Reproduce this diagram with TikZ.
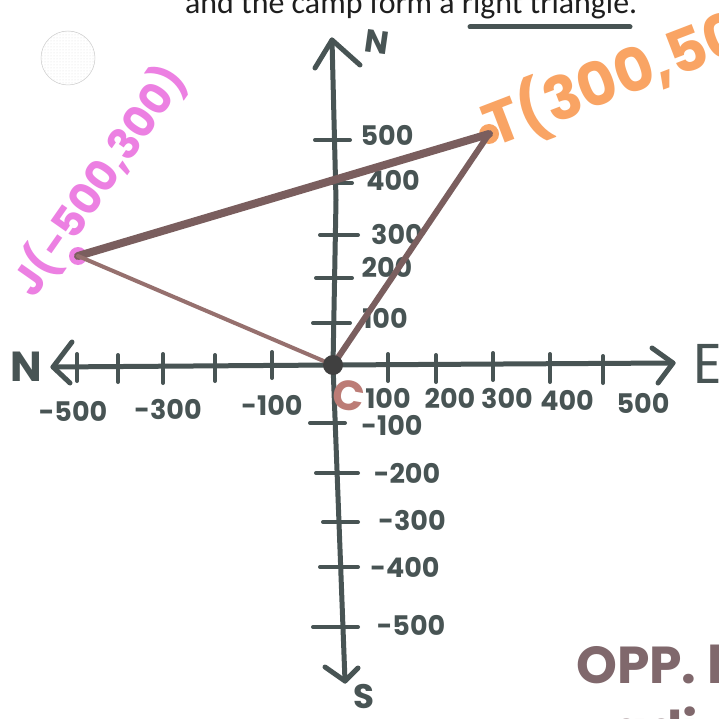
\documentclass[tikz,border=0pt]{standalone}
\usepackage{fontspec}
\setmainfont{Poppins}
\newfontfamily\carl{Carlito}
\usetikzlibrary{patterns}
\definecolor{axiscol}{RGB}{72,84,84}
\definecolor{tri}{RGB}{122,94,94}
\definecolor{trilight}{RGB}{150,112,110}
\definecolor{pinkc}{RGB}{236,128,226}
\definecolor{orangec}{RGB}{249,164,100}
\definecolor{cbrown}{RGB}{188,124,118}
\definecolor{oppc}{RGB}{128,104,108}
\definecolor{inkc}{RGB}{30,30,30}
\newcommand{\fsz}[1]{\fontsize{#1}{#1}\selectfont}
\tikzset{
  axisline/.style={draw=axiscol, line width=5pt, line cap=round, line join=round},
  tickmark/.style={draw=axiscol, line width=4pt, line cap=round},
  lab/.style={text=axiscol, inner sep=0pt, font=\bfseries\fsz{27}},
  dirlab/.style={text=axiscol, inner sep=0pt},
}
\begin{document}
\begin{tikzpicture}[x=1pt,y=-1pt]
\useasboundingbox (0,0) rectangle (718,719);
\clip (0,0) rectangle (718,719);
\fill[white] (0,0) rectangle (718,719);

% title
\node[anchor=base west, inner sep=0pt, text=inkc] (title) at (185,14)
  {\resizebox{452pt}{!}{\carl and the camp form a right triangle.}};
\coordinate (u1) at (470,27);
\coordinate (u2) at (630,27);
\draw[draw=axiscol, line width=5pt, line cap=round] (u1) -- (u2);

% stamp circle
\node[circle, minimum size=54pt, draw=gray!40, line width=0.5pt,
      pattern=dots, pattern color=gray!25] (stamp) at (68,58) {};

% axes
\coordinate (ntip) at (332,40);
\coordinate (O) at (333,365);
\coordinate (stip) at (345,681);
\coordinate (wtip) at (53,367);
\coordinate (etip) at (673,363);
\draw[axisline] (ntip) -- (336,200) -- (O) -- (stip);
\draw[axisline] (wtip) -- (O) -- (etip);
\coordinate (nb1) at (315,68);
\coordinate (nb2) at (360,65);
\draw[axisline] (nb1) -- (ntip) -- (nb2);
\coordinate (sb1) at (325,667);
\coordinate (sb2) at (358,668);
\draw[axisline] (sb1) -- (stip) -- (sb2);
\coordinate (wb1) at (72,342);
\coordinate (wb2) at (70,383);
\draw[axisline] (wb1) -- (wtip) -- (wb2);
\coordinate (eb1) at (652,348);
\coordinate (eb2) at (658,383);
\draw[axisline] (eb1) -- (etip) -- (eb2);

% direction letters
\node[dirlab, font=\bfseries\fsz{32}, rotate=-8] (nN) at (377,42) {N};
\node[dirlab, font=\bfseries\fsz{42}] (nW) at (26,367) {N};
\node[dirlab, font=\fsz{56}] (nE) at (708,364) {E};
\node[dirlab, font=\bfseries\fsz{34}] (nS) at (364,697) {S};

% x ticks
\foreach \x/\a/\b in {77/354/381,118/355/382,163/354/383,215/355/381,272/352/378,
                      388/354/381,436/355/382,493/353/380,550/354/382,603/356/383}
  \draw[tickmark] (\x,\a) -- (\x,\b);
% y ticks
\foreach \y/\a/\b in {140/315/350,183/318/352,235/320/358,278/316/352,323/313/350,
                      423/310/345,473/316/358,522/323/358,567/320/358,627/313/358}
  \draw[tickmark] (\a,\y) -- (\b,\y);

% x labels
\node[lab] (xm500) at (73,411) {-500};
\node[lab] (xm300) at (168,409) {-300};
\node[lab] (xm100) at (272,405) {-100};
\node[lab] (x100) at (388,398) {100};
\node[lab] (x200) at (450,398) {200};
\node[lab] (x300) at (507,398) {300};
\node[lab] (x400) at (567,400) {400};
\node[lab] (x500) at (643,403) {500};
% y labels
\node[lab] (y500) at (387,135) {500};
\node[lab] (y400) at (393,180) {400};
\node[lab] (y300) at (397,234) {300};
\node[lab] (y200) at (387,267) {200};
\node[lab] (y100) at (385,318) {100};
\node[lab] (ym100) at (392,425) {-100};
\node[lab] (ym200) at (407,473) {-200};
\node[lab] (ym300) at (412,520) {-300};
\node[lab] (ym400) at (405,567) {-400};
\node[lab] (ym500) at (411,625) {-500};

% triangle
\coordinate (J) at (78,256);
\coordinate (T) at (489,134);
\fill[pinkc] (J) circle (9pt);
\fill[orangec] (T) circle (10pt);
\draw[draw=tri, line width=8pt, line cap=round] (J) -- (T);
\draw[draw=tri, line width=6pt, line cap=round] (T) -- (O);
\draw[draw=trilight, line width=4pt, line cap=round] (J) -- (O);
\fill[black!75] (O) circle (10pt);

% point labels
\node[text=pinkc, inner sep=0pt, rotate=55, font=\bfseries\fsz{43}] (jlab) at (99,181) {J(-500,300)};
\node[text=orangec, inner sep=0pt, rotate=21, anchor=base west, font=\bfseries\fsz{60}] (tlab) at (493,148) {T(300,500)};
\node[text=cbrown, inner sep=0pt, rotate=-10, font=\bfseries\fsz{42}] (clab) at (349,396) {C};

% bottom right note
\node[text=oppc, inner sep=0pt, anchor=base west, font=\bfseries\fsz{52}] (opp) at (576,683) {OPP. leg};
\node[text=oppc, inner sep=0pt, anchor=base west, font=\bfseries\fsz{52}] (adj) at (612,748) {adj.};
\end{tikzpicture}
\end{document}
